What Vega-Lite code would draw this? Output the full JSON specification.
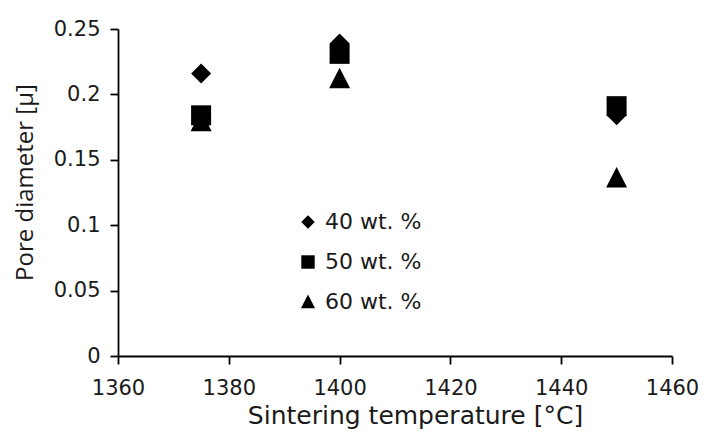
{
  "$schema": "https://vega.github.io/schema/vega-lite/v6.json",
  "width": 554,
  "height": 327,
  "autosize": {"type": "none"},
  "padding": {"left": 118, "top": 29, "right": 35, "bottom": 76},
  "background": "white",
  "config": {
    "view": {"stroke": null},
    "axis": {"grid": false, "domainColor": "black", "tickColor": "black", "labelColor": "#1a1a1a", "titleColor": "#1a1a1a", "domainWidth": 1.8, "tickWidth": 1.8, "tickSize": 8, "labelFont": "DejaVu Sans", "labelFontSize": 21, "titleFontWeight": "normal"}
  },
  "data": {
    "values": [
      {"temp": 1375, "diameter": 0.216, "series": "40 wt. %"},
      {"temp": 1400, "diameter": 0.239, "series": "40 wt. %"},
      {"temp": 1450, "diameter": 0.184, "series": "40 wt. %"},
      {"temp": 1375, "diameter": 0.184, "series": "50 wt. %"},
      {"temp": 1400, "diameter": 0.231, "series": "50 wt. %"},
      {"temp": 1450, "diameter": 0.191, "series": "50 wt. %"},
      {"temp": 1375, "diameter": 0.179, "series": "60 wt. %"},
      {"temp": 1400, "diameter": 0.212, "series": "60 wt. %"},
      {"temp": 1450, "diameter": 0.136, "series": "60 wt. %"}
    ]
  },
  "mark": {"type": "point", "filled": true, "color": "black", "opacity": 1, "size": 400},
  "encoding": {
    "x": {"field": "temp", "type": "quantitative", "scale": {"domain": [1360, 1460], "nice": false, "zero": false},
      "axis": {"values": [1360, 1380, 1400, 1420, 1440, 1460], "format": "d", "title": "Sintering temperature [°C]", "titleFont": "DejaVu Sans", "titleFontSize": 25, "titleX": 297, "titleY": 67, "titleBaseline": "alphabetic", "titleAlign": "center", "labelPadding": 13, "labelFlush": false}},
    "y": {"field": "diameter", "type": "quantitative", "scale": {"domain": [0, 0.25], "nice": false},
      "axis": {"values": [0, 0.05, 0.1, 0.15, 0.2, 0.25], "format": "~g", "title": "Pore diameter [μ]", "titleFont": "Open Sans", "titleFontSize": 24, "titleAngle": -90, "titleX": -93, "titleY": 153, "titleAlign": "center", "titleBaseline": "middle", "labelPadding": 10}},
    "shape": {"field": "series", "type": "nominal", "scale": {"domain": ["40 wt. %", "50 wt. %", "60 wt. %"], "range": ["diamond", "square", "M0,-1.1L1.05,0.95L-1.05,0.95Z"]},
      "legend": {"title": null, "orient": "none", "legendX": 179, "legendY": 182, "symbolSize": 180, "symbolType": "circle", "symbolFillColor": "black", "symbolStrokeColor": "black", "symbolStrokeWidth": 0, "labelFont": "DejaVu Sans", "labelFontSize": 22, "labelColor": "#1a1a1a", "rowPadding": 18, "labelOffset": 6}}
  }
}
